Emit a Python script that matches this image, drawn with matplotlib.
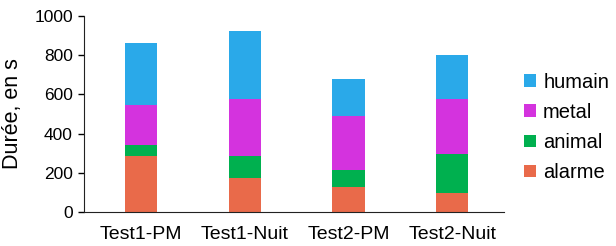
import matplotlib
matplotlib.use("Agg")
import matplotlib.pyplot as plt
import numpy as np

plt.rcParams['font.family'] = ['Liberation Sans', 'DejaVu Sans']

categories = ["Test1-PM", "Test1-Nuit", "Test2-PM", "Test2-Nuit"]
alarme = [288, 176, 127, 95]
animal = [53, 112, 88, 200]
metal = [203, 287, 275, 280]
humain = [316, 349, 190, 224]

series = [("alarme", alarme, "#E96A4A"),
          ("animal", animal, "#00B04F"),
          ("metal", metal, "#D433DE"),
          ("humain", humain, "#2AA9E9")]

fig = plt.figure(figsize=(6.16, 2.46), dpi=100)
ax = fig.add_axes([84/616, 34/246, (504-84)/616, (212-16)/246])

x = np.arange(len(categories))
bottom = np.zeros(len(categories))
handles = []
for name, vals, col in series:
    b = ax.bar(x, vals, width=0.31, bottom=bottom, color=col, label=name, linewidth=0)
    handles.append(b)
    bottom += np.array(vals)

ax.set_xlim(-0.55, 3.5)
ax.set_ylim(0, 1000)
ax.set_yticks(range(0, 1001, 200))
ax.set_xticks(x)
ax.set_xticklabels(categories, fontsize=14)
ax.tick_params(axis='y', labelsize=12.5, length=4, width=1, direction='out', pad=4)
ax.tick_params(axis='x', length=0, pad=10)
for s in ['top', 'right']:
    ax.spines[s].set_visible(False)
ax.spines['left'].set_color('#222222')
ax.spines['bottom'].set_color('#222222')
ax.set_ylabel("Durée, en s", fontsize=15.5, labelpad=8)

leg = fig.legend(handles[::-1], [s[0] for s in series][::-1],
                 loc='center left', bbox_to_anchor=(524/616, 1 - 127.5/246),
                 frameon=False, fontsize=14.5, handlelength=0.6, handleheight=0.6,
                 handletextpad=0.35, labelspacing=0.55, borderpad=0.0,
                 borderaxespad=0.0)

fig.savefig("out.png", dpi=100)
